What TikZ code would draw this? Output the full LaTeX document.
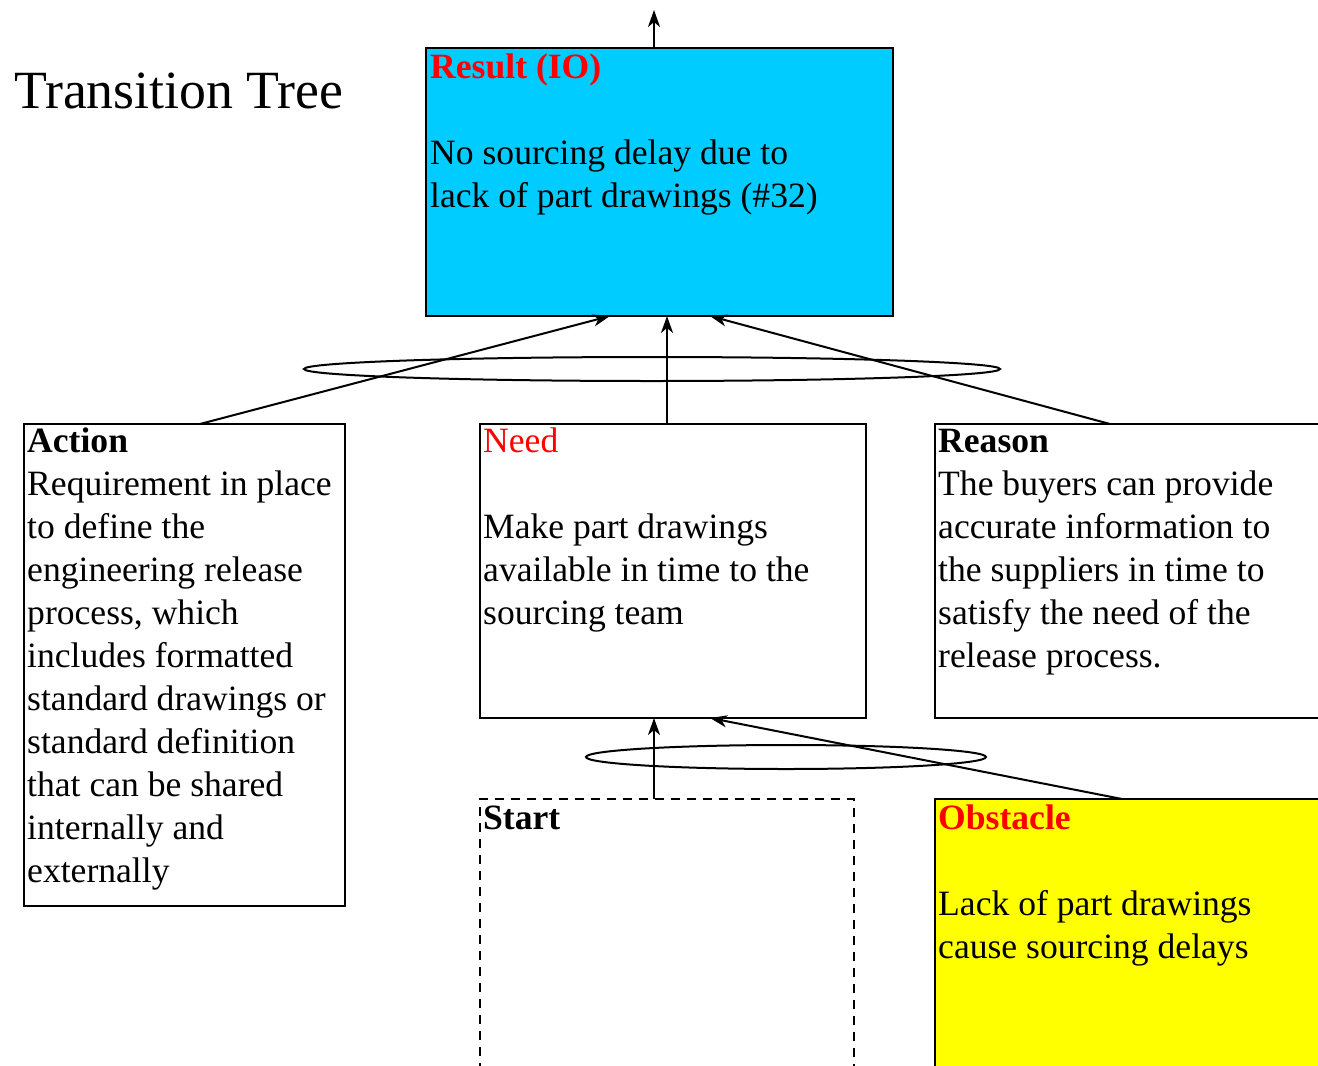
\documentclass[tikz,border=0pt]{standalone}
\usepackage{fontspec}
\setmainfont{Liberation Serif}
\usetikzlibrary{arrows.meta,shapes.geometric}
\definecolor{resultblue}{HTML}{00CCFF}
\definecolor{obstacleyellow}{HTML}{FFFF00}
\definecolor{labelred}{HTML}{FF0000}
\newcommand{\bodysize}{\fontsize{35.6}{43}\selectfont}
\tikzset{
  box/.style={draw=black, line width=2pt, rectangle, anchor=north west, inner sep=0pt, outer sep=0pt},
  dashbox/.style={box, dash pattern=on 9pt off 7pt},
  txt/.style={anchor=north west, inner sep=0pt, align=left, font=\bodysize},
  link/.style={line width=2pt, -{Stealth[length=17pt,width=12pt,inset=5pt]}},
  andring/.style={draw=black, line width=2pt, ellipse, inner sep=0pt, outer sep=0pt}
}
\begin{document}
\begin{tikzpicture}[x=1pt,y=-1pt]
\useasboundingbox (0,0) rectangle (1318,1066);
\clip (0,0) rectangle (1318,1066);

% title
\node[anchor=base west, inner sep=0pt, font=\fontsize{53.8}{60}\selectfont] (title) at (14,108) {Transition Tree};

% boxes
\node[box, fill=resultblue, minimum width=467pt, minimum height=268pt] (result) at (426,48) {};
\node[box, minimum width=321pt, minimum height=482pt] (action) at (24,424) {};
\node[box, minimum width=386pt, minimum height=294pt] (need) at (480,424) {};
\node[box, minimum width=400pt, minimum height=294pt] (reason) at (935,424) {};
\node[dashbox, minimum width=374pt, minimum height=300pt] (start) at (480,799) {};
\node[box, fill=obstacleyellow, minimum width=400pt, minimum height=300pt] (obstacle) at (935,799) {};

% box texts
\node[txt] (resulttxt) at ([xshift=4pt]result.north west)
  {\strut\textcolor{labelred}{\bfseries Result (IO)}\\
   \strut\\
   \strut No sourcing delay due to\\
   \strut lack of part drawings (\#32)};
\node[txt] (actiontxt) at ([xshift=3pt,yshift=2pt]action.north west)
  {\strut\textbf{Action}\\
   \strut Requirement in place\\
   \strut to define the\\
   \strut engineering release\\
   \strut process, which\\
   \strut includes formatted\\
   \strut standard drawings or\\
   \strut standard definition\\
   \strut that can be shared\\
   \strut internally and\\
   \strut externally};
\node[txt] (needtxt) at ([xshift=3pt,yshift=2pt]need.north west)
  {\strut\textcolor{labelred}{Need}\\
   \strut\\
   \strut Make part drawings\\
   \strut available in time to the\\
   \strut sourcing team};
\node[txt] (reasontxt) at ([xshift=3pt,yshift=2pt]reason.north west)
  {\strut\textbf{Reason}\\
   \strut The buyers can provide\\
   \strut accurate information to\\
   \strut the suppliers in time to\\
   \strut satisfy the need of the\\
   \strut release process.};
\node[txt] (starttxt) at ([xshift=3pt]start.north west)
  {\strut\textbf{Start}};
\node[txt] (obstacletxt) at ([xshift=3pt]obstacle.north west)
  {\strut\textcolor{labelred}{\bfseries Obstacle}\\
   \strut\\
   \strut Lack of part drawings\\
   \strut cause sourcing delays};

% sufficiency ellipses
\node[andring, minimum width=696pt, minimum height=24pt] (upperand) at (652,369) {};
\node[andring, minimum width=400pt, minimum height=24pt] (lowerand) at (786,757) {};

% connectors
\coordinate (above) at (654,10);
\draw[link] ([xshift=-5.5pt]result.north) -- (above);
\draw[link] ([xshift=15.5pt]action.north) -- ([xshift=-49.5pt]result.south);
\draw[link] ([xshift=-6pt]need.north) -- ([xshift=7.5pt]result.south);
\draw[link] ([xshift=-25pt]reason.north) -- ([xshift=50.5pt]result.south);
\draw[link] ([xshift=-13pt]start.north) -- ([xshift=-19pt]need.south);
\draw[link] ([xshift=-13pt]obstacle.north) -- ([xshift=37pt]need.south);
\end{tikzpicture}
\end{document}
